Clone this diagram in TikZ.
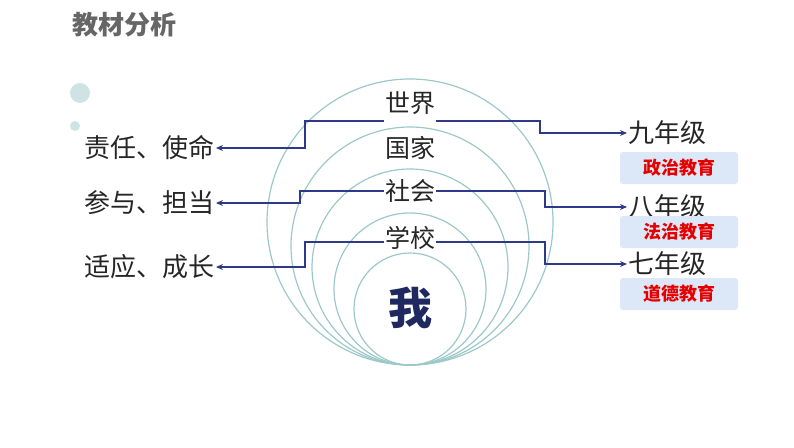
\documentclass[tikz,border=0pt]{standalone}
\usepackage{fontspec}
\setmainfont{Noto Sans CJK SC}
\usetikzlibrary{arrows.meta}
\definecolor{navy}{HTML}{2E3A87}
\definecolor{ring}{HTML}{9CC8C8}
\definecolor{boxb}{HTML}{DCE8F8}
\tikzset{
 ring/.style={draw=ring,line width=1.2pt},
 link/.style={draw=navy,line width=1.6pt,-{Stealth[length=7pt,width=6pt]}},
 lab/.style={font=\fontsize{25}{25}\selectfont,text=black!85,inner sep=1pt},
 side/.style={font=\fontsize{26}{26}\selectfont,text=black!85,inner sep=1pt},
 tag/.style={fill=boxb,rounded corners=3pt,minimum width=118pt,minimum height=32pt,font=\bfseries\fontsize{18}{18}\selectfont,text=red!90!black}
}
\begin{document}
\begin{tikzpicture}[x=1pt,y=-1pt]
\useasboundingbox (0,0) rectangle (794,447);
\node[font=\bfseries\fontsize{26}{26}\selectfont,text=black!60,anchor=west] (title) at (69,25) {教材分析};
\fill[ring!50] (80,93) circle (10);
\fill[ring!50] (75,126) circle (5);
\foreach \r in {56,76,98,119,143} \draw[ring] (410,365-\r) circle (\r);
\node[lab] (w) at (410,103) {世界};
\node[lab] (g) at (410,148) {国家};
\node[lab] (s) at (410,191) {社会};
\node[lab] (x) at (410,238) {学校};
\node[font=\bfseries\fontsize{44}{44}\selectfont,text=navy!70!black] (me) at (410,308) {我};
\node[side,anchor=east] (l1) at (216,148) {责任、使命};
\node[side,anchor=east] (l2) at (216,203) {参与、担当};
\node[side,anchor=east] (l3) at (216,267) {适应、成长};
\node[side,anchor=west] (r1) at (627,133) {九年级};
\node[side,anchor=west] (r2) at (627,207) {八年级};
\node[side,anchor=west] (r3) at (627,264) {七年级};
\node[tag] (t1) at (679,168) {政治教育};
\node[tag] (t2) at (679,232) {法治教育};
\node[tag] (t3) at (679,294) {道德教育};
\draw[link] (w.west|-0,121) -- (305,121) -- (305,148) -- (l1.east);
\draw[link] (w.east|-0,121) -- (540,121) -- (540,133) -- (r1.west);
\draw[link] (s.west) -- (300,191) -- (300,203) -- (l2.east);
\draw[link] (s.east) -- (545,191) -- (545,207) -- (r2.west);
\draw[link] (x.west|-0,242) -- (305,242) -- (305,267) -- (l3.east);
\draw[link] (x.east|-0,242) -- (545,242) -- (545,264) -- (r3.west);
\end{tikzpicture}
\end{document}
